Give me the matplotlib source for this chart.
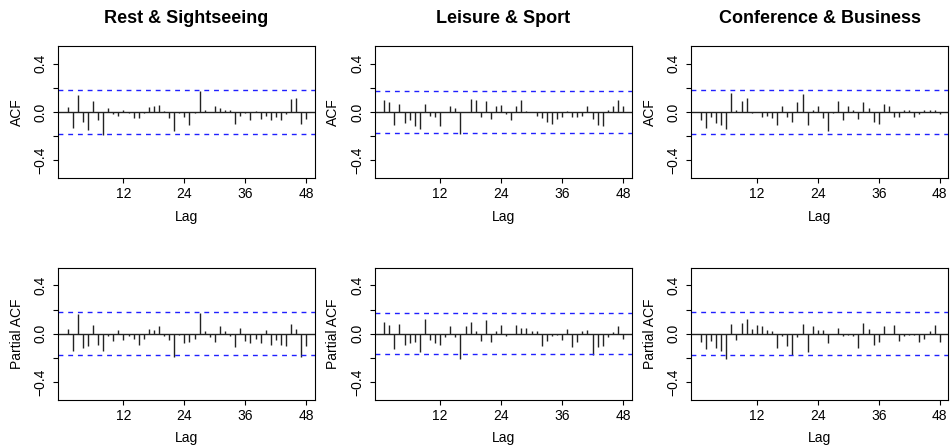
import numpy as np
import matplotlib
matplotlib.use("Agg")
import matplotlib.pyplot as plt

plt.rcParams['font.family'] = ['Liberation Sans', 'DejaVu Sans']

# 数据：各滞后阶的自相关/偏自相关系数
titles = ["Rest & Sightseeing", "Leisure & Sport", "Conference & Business"]
lags = np.arange(1, 49)
conf = [0.179, 0.172, 0.180]   # 蓝色虚线 ±2/sqrt(n)

acf_rest = [0.04, -0.13, 0.14, -0.08, -0.15, 0.09, -0.07, -0.19, 0.03, -0.02,
            -0.03, 0.02, -0.01, -0.05, -0.05, -0.01, 0.04, 0.05, 0.06, 0.01,
            -0.05, -0.16, -0.01, -0.04, -0.11, -0.01, 0.17, 0.02, 0.00, 0.05,
            0.03, 0.02, 0.02, -0.10, -0.03, -0.01, -0.07, 0.01, -0.06, -0.03,
            -0.07, -0.04, -0.07, -0.02, 0.11, 0.12, -0.10, -0.06]
acf_leisure = [0.10, 0.08, -0.11, 0.07, -0.09, -0.07, -0.12, -0.14, 0.07, -0.03,
               -0.04, -0.12, 0.00, 0.05, 0.03, -0.18, 0.00, 0.11, 0.10, -0.04,
               0.09, -0.06, 0.05, 0.06, -0.02, -0.07, 0.05, 0.10, 0.01, 0.00,
               -0.03, -0.05, -0.08, -0.10, -0.06, -0.04, 0.01, -0.04, -0.04, -0.03,
               0.05, -0.06, -0.11, -0.12, 0.02, 0.05, 0.10, 0.05]
acf_conf = [-0.07, -0.13, -0.04, -0.09, -0.11, -0.14, 0.16, 0.02, 0.09, 0.12,
            -0.01, 0.00, -0.04, -0.03, -0.05, -0.11, 0.05, -0.04, -0.08, 0.08,
            0.15, -0.11, 0.02, 0.05, -0.05, -0.16, -0.01, 0.09, -0.07, 0.05,
            0.02, -0.06, 0.08, 0.03, -0.08, -0.10, 0.07, 0.05, -0.04, -0.04,
            0.02, 0.02, -0.04, -0.02, 0.02, 0.02, 0.02, -0.02]

pacf_rest = [0.04, -0.14, 0.16, -0.12, -0.10, 0.07, -0.09, -0.14, -0.02, -0.06,
             0.03, -0.05, -0.02, -0.04, -0.09, -0.04, 0.04, 0.03, 0.06, -0.02,
             -0.05, -0.19, -0.01, -0.08, -0.07, -0.04, 0.17, 0.02, -0.03, -0.07,
             0.06, 0.02, -0.02, -0.11, 0.05, -0.06, -0.08, -0.04, -0.08, 0.03,
             -0.09, -0.05, -0.09, -0.10, 0.08, 0.04, -0.19, -0.10]
pacf_leisure = [0.10, 0.07, -0.13, 0.08, -0.09, -0.08, -0.07, -0.15, 0.12, -0.05,
                -0.08, -0.09, -0.03, 0.06, -0.03, -0.21, 0.06, 0.10, 0.02, -0.06,
                0.11, -0.07, 0.02, 0.07, -0.02, 0.00, 0.07, 0.05, 0.05, 0.02,
                0.02, -0.10, -0.06, -0.02, -0.01, -0.05, 0.04, -0.11, -0.07, 0.02,
                0.03, -0.18, -0.11, -0.10, -0.03, 0.01, 0.06, -0.04]
pacf_conf = [-0.07, -0.13, -0.06, -0.12, -0.14, -0.21, 0.08, -0.05, 0.09, 0.12,
             0.04, 0.07, 0.06, 0.03, 0.02, -0.12, -0.02, -0.10, -0.18, -0.03,
             0.08, -0.15, 0.06, 0.03, 0.03, -0.08, 0.00, 0.05, -0.02, -0.01,
             -0.02, -0.12, 0.09, 0.04, -0.09, -0.07, 0.06, 0.00, 0.07, -0.06,
             -0.02, -0.01, -0.01, -0.07, -0.04, 0.02, 0.07, -0.07]

rows = [(acf_rest, acf_leisure, acf_conf), (pacf_rest, pacf_leisure, pacf_conf)]
ylabels = ["ACF", "Partial ACF"]

W, H = 950, 446
fig = plt.figure(figsize=(W / 100, H / 100), dpi=100)

colw = W / 3
for r in range(2):
    for c in range(3):
        left = c * colw + 58
        top = 46 + r * 221.7
        ax = fig.add_axes([left / W, (H - top - 132) / H, 257 / W, 132 / H])
        vals = rows[r][c]
        ax.vlines(lags, 0, vals, color='#222222', lw=1.0)
        ax.axhline(0, color='#222222', lw=1.0)
        for sign in (1, -1):
            ax.axhline(sign * conf[c], color='#2020ff', lw=1.0, ls=(0, (3.5, 3.5)))
        ax.set_xlim(-0.88, 49.7)
        ax.set_ylim(-0.547, 0.547)
        ax.set_xticks([12, 24, 36, 48])
        ax.set_yticks([-0.4, -0.2, 0.0, 0.2, 0.4])
        ax.set_yticklabels(["\u22120.4", "", "0.0", "", "0.4"])
        ax.tick_params(direction='out', length=3.6, width=0.8, labelsize=10, pad=3)
        ax.tick_params(axis='y', labelrotation=90, pad=4)
        for lab in ax.get_yticklabels():
            lab.set_va('center')
        for s in ax.spines.values():
            s.set_linewidth(0.8)
        ax.set_xlabel("Lag", fontsize=10)
        ax.xaxis.set_label_coords(0.5, -(216.7 - 178) / 132)
        ax.xaxis.label.set_va('center')
        ax.set_ylabel(ylabels[r], fontsize=10)
        ax.yaxis.set_label_coords(-(58 - 16.7) / 257, 0.5)
        ax.yaxis.label.set_va('center')
        if r == 0:
            ax.set_title(titles[c], fontsize=13, fontweight='bold',
                         y=1 + (46 - 18.3) / 132, va='center', pad=0)

fig.savefig("out.png", dpi=100)
